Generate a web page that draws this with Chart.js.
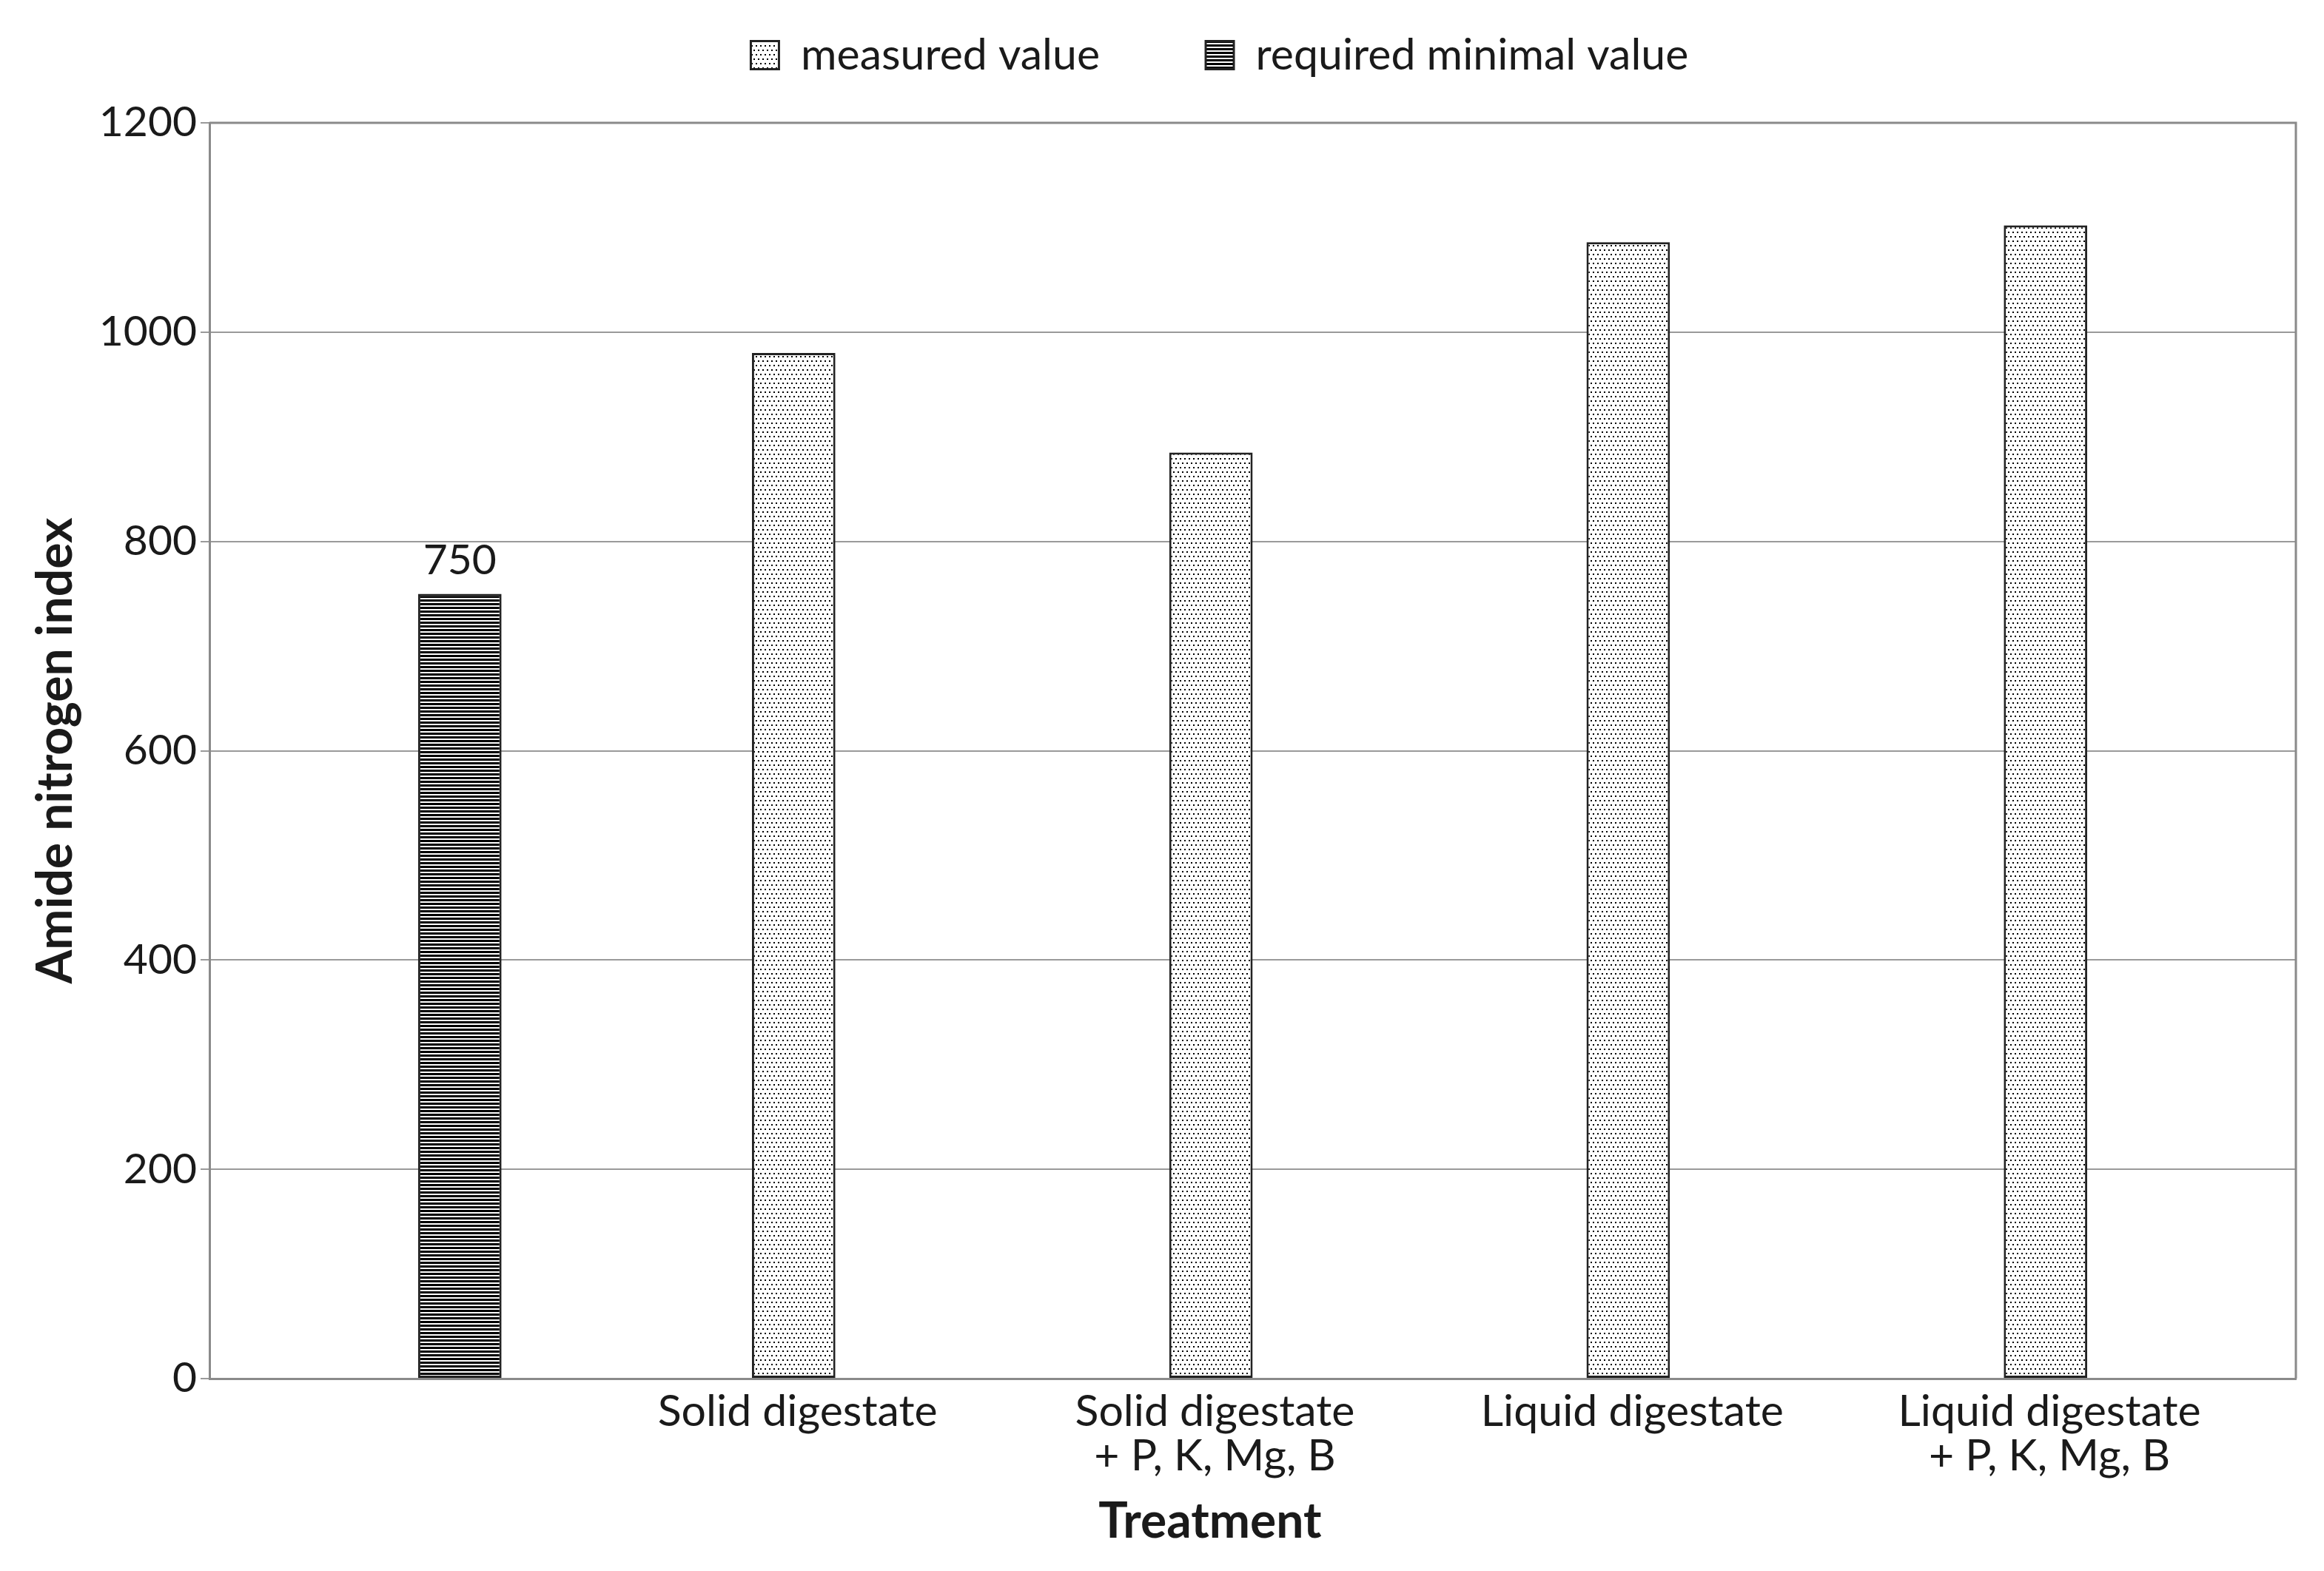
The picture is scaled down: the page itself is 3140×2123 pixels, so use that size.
<!DOCTYPE html>
<html>
<head>
<meta charset="utf-8">
<script src="https://cdn.jsdelivr.net/npm/chart.js@4.4.1/dist/chart.umd.min.js"></script>
<style>
  html, body { margin: 0; padding: 0; background: #fff; }
  #wrap { width: 3140px; height: 2123px; }
</style>
</head>
<body>
<div id="wrap"><canvas id="myChart" width="3140" height="2123"></canvas></div>
<script>
// data
var categories = [
    '',
    'Solid digestate',
    ['Solid digestate', '+ P, K, Mg, B'],
    'Liquid digestate',
    ['Liquid digestate', '+ P, K, Mg, B']
];
var measured = [null, 980, 885, 1086, 1102];
var required = [750, null, null, null, null];
var yMin = 0, yMax = 1200, yStep = 200;

var FONT = 'Lato';
var INK = '#1a1a1a';

// fill patterns: dotted for measured, horizontal lines for required
function dotPattern() {
    var c = document.createElement('canvas');
    c.width = 6; c.height = 12;
    var g = c.getContext('2d');
    g.fillStyle = '#fff'; g.fillRect(0, 0, 6, 12);
    g.fillStyle = '#000';
    g.fillRect(1, 1, 2, 2);
    g.fillRect(4, 7, 2, 2);
    return g.createPattern(c, 'repeat');
}
function linePattern() {
    var c = document.createElement('canvas');
    c.width = 4; c.height = 5;
    var g = c.getContext('2d');
    g.fillStyle = '#fff'; g.fillRect(0, 0, 4, 5);
    g.fillStyle = '#000'; g.fillRect(0, 0, 4, 3);
    return g.createPattern(c, 'repeat');
}

// push the plot down below the legend
var legendGap = {
    id: 'legendGap',
    beforeLayout: function (chart) {
        var lg = chart.legend;
        if (lg && !lg._gapDone) {
            var fit = lg.fit;
            lg.fit = function () { fit.call(this); this.height += 52; };
            lg._gapDone = true;
        }
    }
};

// top and right border of the plot area
var frame = {
    id: 'frame',
    beforeDatasetsDraw: function (chart) {
        var a = chart.chartArea, g = chart.ctx;
        g.save();
        g.strokeStyle = '#8a8a8a';
        g.lineWidth = 3;
        g.beginPath();
        g.moveTo(a.left, a.top);
        g.lineTo(a.right, a.top);
        g.lineTo(a.right, a.bottom);
        g.stroke();
        g.restore();
    }
};

// value label over the required bar
var valueLabel = {
    id: 'valueLabel',
    afterDatasetsDraw: function (chart) {
        var g = chart.ctx;
        var meta = chart.getDatasetMeta(1);
        g.save();
        g.font = '57px ' + FONT;
        g.fillStyle = INK;
        g.textAlign = 'center';
        g.textBaseline = 'alphabetic';
        meta.data.forEach(function (bar, i) {
            var v = required[i];
            if (v === null) return;
            g.fillText(String(v), bar.x, bar.y - 26);
        });
        g.restore();
    }
};

var ctx = document.getElementById('myChart').getContext('2d');

var chart = new Chart(ctx, {
    type: 'bar',
    data: {
        labels: categories,
        datasets: [{
            label: 'measured value',
            data: measured,
            backgroundColor: dotPattern(),
            borderColor: '#222',
            borderWidth: 3,
            borderSkipped: false,
            categoryPercentage: 0.4,
            barPercentage: 1.0
        }, {
            label: 'required minimal value',
            data: required,
            backgroundColor: linePattern(),
            borderColor: '#222',
            borderWidth: 3,
            borderSkipped: false,
            categoryPercentage: 0.4,
            barPercentage: 1.0
        }]
    },
    options: {
        responsive: false,
        animation: false,
        layout: { padding: { left: 20, right: 38, top: 20, bottom: 10 } },
        plugins: {
            tooltip: { enabled: false },
            legend: {
                position: 'top',
                fullSize: false,
                labels: {
                    font: { family: FONT, size: 59 },
                    color: INK,
                    boxWidth: 38,
                    boxHeight: 38,
                    padding: 25,
                    generateLabels: function (chart) {
                        var items = Chart.defaults.plugins.legend.labels.generateLabels(chart);
                        // widen the gap between the two entries
                        items[0].text = items[0].text + '\u2002\u2002\u2002\u2002';
                        items[1].text = items[1].text + '\u2002\u2002  ';
                        return items;
                    }
                }
            }
        },
        scales: {
            x: {
                grid: { display: false },
                border: { display: true, color: '#8a8a8a', width: 3 },
                ticks: {
                    font: { family: FONT, size: 59, lineHeight: 1.02 },
                    color: INK,
                    padding: 7,
                    labelOffset: -51,
                    maxRotation: 0,
                    autoSkip: false
                },
                title: {
                    display: true,
                    text: 'Treatment\u2002\u2002\u2002 ',
                    font: { family: FONT, size: 66, weight: 'bold' },
                    color: INK,
                    padding: { top: 0, bottom: 17 }
                },
                afterFit: function (scale) { scale.height = 250; }
            },
            y: {
                min: yMin,
                max: yMax,
                grid: { color: '#9a9a9a', lineWidth: 2, tickLength: 12 },
                border: { display: true, color: '#8a8a8a', width: 3 },
                ticks: {
                    stepSize: yStep,
                    format: { useGrouping: false },
                    font: { family: FONT, size: 57 },
                    color: INK,
                    padding: 5
                },
                title: {
                    display: true,
                    text: 'Amide nitrogen index',
                    font: { family: FONT, size: 66, weight: 'bold' },
                    color: INK,
                    padding: { top: 16, bottom: 0 }
                },
                afterFit: function (scale) { scale.width = 263; }
            }
        }
    },
    plugins: [legendGap, frame, valueLabel]
});
</script>
</body>
</html>
